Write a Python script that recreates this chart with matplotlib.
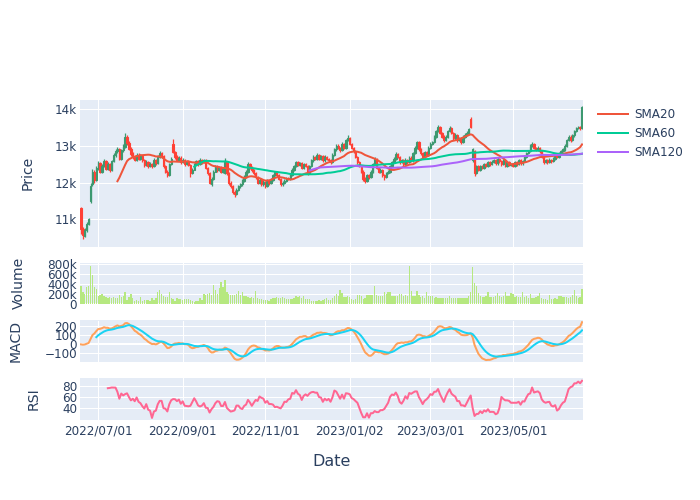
import numpy as np
import pandas as pd
import matplotlib
matplotlib.use("Agg")
import matplotlib.pyplot as plt
from matplotlib.lines import Line2D

# ---------------- data ----------------
dates = pd.bdate_range("2022-06-20", periods=262)

opens = [
    11300,10750,10560,10700,10880,11500,11950,12300,12080,12400,
    12520,12300,12450,12580,12380,12500,12350,12580,12750,12850,
    12900,12650,12880,12980,13250,13080,12920,12780,12700,12620,
    12760,12650,12720,12600,12480,12560,12450,12500,12450,12620,
    12520,12700,12800,12720,12450,12300,12200,12500,13050,12820,
    12700,12620,12680,12550,12620,12500,12580,12480,12250,12350,
    12500,12580,12500,12620,12550,12600,12400,12250,11950,12100,
    12300,12450,12350,12420,12300,12250,12550,12250,12000,11900,
    11750,11680,11800,11900,11950,12050,12150,12300,12500,12400,
    12350,12250,12150,12000,12080,11950,12020,11900,12050,11980,
    12080,12200,12280,12200,12100,11950,12000,12050,12120,12100,
    12200,12350,12450,12550,12480,12520,12400,12500,12450,12250,
    12450,12600,12700,12650,12750,12650,12720,12600,12700,12650,
    12600,12550,12750,12900,13000,12950,12880,13050,12950,13150,
    13200,13050,12950,12850,12700,12550,12450,12300,12100,12050,
    12200,12150,12300,12500,12650,12400,12300,12350,12200,12150,
    12250,12300,12450,12550,12650,12780,12700,12550,12600,12500,
    12620,12550,12680,12600,12800,12950,13100,12900,12800,12700,
    12820,12750,12950,13050,13100,13250,13400,13500,13350,13250,
    13150,13250,13400,13480,13350,13200,13300,13150,13200,13100,
    13250,13300,13350,13720,12620,12850,12250,12450,12350,12450,
    12400,12500,12450,12550,12500,12560,12600,12520,12650,12580,
    12500,12600,12450,12550,12480,12500,12450,12550,12500,12600,
    12520,12580,12700,12800,12850,13000,13050,12950,12900,12950,
    12850,12700,12550,12600,12550,12620,12580,12650,12750,12700,
    12800,12850,12900,13000,13150,13250,13150,13280,13400,13480,
    13500,13480]

highs = [
    11330,10800,10760,10920,11050,11980,12380,12340,12450,12580,
    12560,12500,12640,12620,12560,12530,12620,12800,12900,12960,
    12930,12920,13040,13350,13300,13120,12960,12830,12750,12800,
    12790,12770,12750,12640,12600,12590,12550,12540,12660,12650,
    12740,12860,12830,12750,12480,12340,12540,12700,13180,12850,
    12740,12720,12710,12660,12650,12620,12610,12510,12400,12540,
    12620,12610,12660,12650,12640,12630,12430,12280,12140,12340,
    12490,12480,12460,12450,12420,12680,12580,12280,12040,11930,
    11790,11840,11940,12000,12090,12200,12340,12560,12540,12440,
    12380,12290,12180,12120,12110,12060,12050,12090,12080,12120,
    12240,12320,12310,12230,12130,12040,12090,12160,12150,12240,
    12390,12490,12590,12580,12560,12550,12540,12530,12480,12490,
    12640,12740,12730,12790,12780,12760,12750,12740,12730,12680,
    12630,12790,12940,13040,13050,12980,13090,13080,13190,13280,
    13230,13080,12980,12880,12730,12580,12480,12330,12140,12240,
    12240,12340,12540,12700,12680,12430,12390,12380,12240,12290,
    12340,12490,12590,12690,12820,12810,12730,12640,12630,12660,
    12650,12720,12710,12840,12990,13140,13130,12930,12830,12860,
    12850,12990,13090,13140,13290,13440,13560,13530,13380,13280,
    13290,13440,13530,13510,13380,13340,13330,13240,13230,13290,
    13340,13390,13490,13780,12950,12880,12490,12480,12490,12480,
    12540,12530,12590,12580,12600,12640,12630,12690,12680,12610,
    12640,12630,12590,12580,12540,12530,12590,12580,12640,12630,
    12620,12740,12840,12890,13060,13090,13080,12980,12990,12980,
    12880,12730,12640,12630,12660,12650,12690,12790,12780,12840,
    12890,12940,13040,13190,13290,13280,13320,13440,13520,13540,
    13530,14080]

lows = [
    10600,10470,10520,10660,10850,11450,11900,11980,12050,12350,
    12260,12250,12420,12330,12340,12300,12320,12550,12700,12800,
    12600,12620,12840,12950,13020,12880,12720,12640,12580,12590,
    12600,12610,12550,12430,12440,12400,12410,12400,12420,12480,
    12500,12660,12680,12400,12250,12150,12180,12470,12790,12650,
    12580,12580,12510,12520,12460,12470,12440,12150,12220,12330,
    12470,12460,12480,12510,12520,12360,12200,11960,11900,12080,
    12280,12300,12320,12250,12270,12220,12200,11940,11840,11680,
    11620,11650,11770,11860,11920,12020,12120,12270,12360,12300,
    12200,12100,11950,11960,11900,11910,11860,11880,11940,11950,
    12050,12170,12160,12060,11900,11920,11970,12020,12060,12070,
    12170,12320,12420,12440,12450,12360,12370,12410,12210,12230,
    12420,12570,12610,12620,12610,12620,12560,12570,12610,12560,
    12510,12520,12720,12870,12900,12840,12850,12910,12920,13120,
    13010,12910,12810,12660,12510,12410,12260,12050,11990,12020,
    12110,12120,12270,12470,12360,12260,12270,12160,12080,12120,
    12220,12270,12420,12520,12620,12660,12510,12520,12460,12470,
    12510,12520,12560,12570,12770,12920,12860,12760,12660,12670,
    12710,12720,12920,13020,13070,13220,13370,13310,13210,13110,
    13120,13220,13370,13310,13160,13170,13110,13120,13060,13070,
    13220,13270,13320,13490,12560,12180,12220,12310,12320,12360,
    12370,12410,12420,12460,12470,12530,12480,12490,12540,12460,
    12470,12410,12420,12440,12450,12410,12420,12460,12470,12480,
    12490,12550,12670,12770,12820,12970,12910,12860,12870,12810,
    12660,12510,12520,12510,12520,12540,12550,12620,12660,12670,
    12770,12820,12870,12970,13120,13110,13120,13250,13370,13450,
    13430,13460]

closes = [
    10750,10580,10700,10880,11000,11900,12300,12080,12400,12520,
    12300,12450,12580,12380,12500,12350,12580,12750,12850,12900,
    12650,12880,12980,13250,13080,12920,12780,12700,12620,12760,
    12650,12720,12600,12480,12560,12450,12500,12450,12620,12520,
    12700,12800,12720,12450,12300,12200,12500,12650,12820,12700,
    12620,12680,12550,12620,12500,12580,12480,12250,12350,12500,
    12580,12500,12620,12550,12600,12400,12250,12000,12100,12300,
    12450,12350,12420,12300,12380,12550,12250,12000,11900,11750,
    11680,11800,11900,11950,12050,12150,12300,12500,12400,12350,
    12250,12150,12000,12080,11950,12020,11900,12050,11980,12080,
    12200,12280,12200,12100,11950,12000,12050,12120,12100,12200,
    12350,12450,12550,12480,12520,12400,12500,12450,12250,12450,
    12600,12700,12650,12750,12650,12720,12600,12700,12650,12600,
    12550,12750,12900,13000,12950,12880,13050,12950,13150,13200,
    13050,12950,12850,12700,12550,12450,12300,12100,12050,12200,
    12150,12300,12500,12650,12400,12300,12350,12200,12150,12250,
    12300,12450,12550,12650,12780,12700,12550,12600,12500,12620,
    12550,12680,12600,12800,12950,13100,12900,12800,12700,12820,
    12750,12950,13050,13100,13250,13400,13500,13350,13250,13150,
    13250,13400,13480,13350,13200,13300,13150,13200,13100,13250,
    13300,13350,13450,13520,12900,12250,12450,12350,12450,12400,
    12500,12450,12550,12500,12560,12600,12520,12650,12580,12500,
    12600,12450,12550,12480,12500,12450,12550,12500,12600,12520,
    12580,12700,12800,12850,13000,13050,12950,12900,12950,12850,
    12700,12550,12600,12550,12620,12580,12650,12750,12700,12800,
    12850,12900,13000,13150,13250,13150,13280,13400,13480,13500,
    13470,14050]

volumes_k = [
    360,240,190,330,350,750,580,330,300,160,
    175,190,160,140,110,130,110,140,110,120,
    175,140,160,225,80,145,190,110,65,70,
    65,140,65,75,70,75,65,125,75,110,
    225,275,190,160,145,140,225,110,90,65,
    125,100,90,75,90,100,95,75,65,40,
    50,60,110,80,190,175,190,210,175,375,
    270,190,310,440,325,475,240,190,175,175,
    175,190,250,175,240,160,160,140,125,130,
    110,250,110,95,90,75,80,75,65,90,
    110,125,130,120,125,135,120,100,105,95,
    100,110,150,140,150,125,160,95,90,90,
    50,60,60,50,70,60,80,90,125,80,
    80,125,160,195,160,280,205,140,130,150,
    140,95,80,90,175,175,150,90,125,180,
    180,180,180,350,175,150,150,150,225,190,
    240,240,150,150,150,150,190,190,150,175,
    160,750,255,155,155,255,175,130,160,110,
    225,150,150,150,120,130,115,125,110,120,
    110,125,160,125,115,120,110,125,120,115,
    110,120,150,240,725,410,350,205,150,140,
    130,160,225,130,130,130,160,210,160,140,
    150,240,160,160,220,200,140,150,130,130,
    240,130,150,110,200,110,110,130,160,210,
    110,100,90,80,175,90,100,110,100,160,
    160,130,130,130,120,130,175,275,150,110,
    130,300]

tick_dates = ["2022-07-01", "2022-09-01", "2022-11-01",
              "2023-01-02", "2023-03-01", "2023-05-01"]
tick_labels = ["2022/07/01", "2022/09/01", "2022/11/01",
               "2023/01/02", "2023/03/01", "2023/05/01"]
sma_names = ["SMA20", "SMA60", "SMA120"]
sma_windows = [20, 60, 120]

# ---------------- indicators ----------------
df = pd.DataFrame({"open": opens, "high": highs, "low": lows,
                   "close": closes, "volume": np.array(volumes_k) * 1000},
                  index=dates)
close = df["close"]
smas = [close.rolling(w).mean() for w in sma_windows]
ema12 = close.ewm(span=12).mean()
ema26 = close.ewm(span=26).mean()
macd = ema12 - ema26
signal = macd.ewm(span=9).mean()
signal.iloc[:8] = np.nan
delta = close.diff()
gain = delta.clip(lower=0).rolling(14).mean()
loss = (-delta.clip(upper=0)).rolling(14).mean()
rsi = 100 - 100 / (1 + gain / loss)

# ---------------- figure ----------------
W, H = 700, 500
fig = plt.figure(figsize=(7, 5), dpi=100)
fig.patch.set_facecolor("white")

TXT = "#2a3f5f"
BG = "#E5ECF6"
FS = 8.64        # 12 px
FT = 10.08       # 14 px

LEFT, RIGHT = 80, 583

def add_ax(top, bottom):
    ax = fig.add_axes([LEFT / W, 1 - bottom / H, (RIGHT - LEFT) / W, (bottom - top) / H])
    ax.set_facecolor(BG)
    for s in ax.spines.values():
        s.set_visible(False)
    ax.grid(True, color="white", lw=0.75, zorder=0)
    ax.set_axisbelow(True)
    ax.tick_params(length=0, labelsize=FS, labelcolor=TXT, pad=2)
    return ax

n = len(df)
x = np.arange(n)
tick_pos = [dates.get_loc(pd.Timestamp(d)) for d in tick_dates]

ax_p = add_ax(100, 246.5)
ax_v = add_ax(262.8, 303.8)
ax_m = add_ax(320.5, 361.7)
ax_r = add_ax(377.5, 420)

for ax in (ax_p, ax_v, ax_m, ax_r):
    ax.set_xlim(-0.5, n - 0.5)
    ax.set_xticks(tick_pos)
    ax.set_xticklabels([])
ax_r.set_xticklabels(tick_labels)
ax_r.tick_params(axis="x", pad=3)

# price candles
o = df["open"].values; c = df["close"].values
hi = df["high"].values; lo = df["low"].values
cols = np.where(c >= o, "#3D9970", "#FF4136")
ax_p.vlines(x, lo, hi, colors=cols, lw=0.9, zorder=2)
body = np.maximum(np.abs(c - o), 15)
ax_p.bar(x, body, bottom=np.minimum(o, c), width=0.72, color=cols,
         edgecolor=cols, lw=0.8, zorder=3)
sma_cols = ["#EF553B", "#00CC96", "#AB63FA"]
for s, col in zip(smas, sma_cols):
    ax_p.plot(x, s.values, color=col, lw=1.44, zorder=4)
ax_p.set_ylim(10264, 14243)
ax_p.set_yticks([11000, 12000, 13000, 14000])
ax_p.set_yticklabels(["11k", "12k", "13k", "14k"])

# volume
ax_v.bar(x, df["volume"].values, width=0.7, color="#B6E880", zorder=2)
ax_v.set_ylim(0, 815000)
ax_v.set_yticks([0, 200000, 400000, 600000, 800000])
ax_v.set_yticklabels(["0", "200k", "400k", "600k", "800k"])
ax_v.axhline(0, color="white", lw=1.44, zorder=1)

# MACD
ax_m.axhline(0, color="white", lw=1.44, zorder=1)
ax_m.plot(x, macd.values, color="#FFA15A", lw=1.44, zorder=3)
ax_m.plot(x, signal.values, color="#19D3F3", lw=1.44, zorder=4)
ax_m.set_ylim(-194, 267)
ax_m.set_yticks([-100, 0, 100, 200])
ax_m.set_yticklabels(["\u2212100", "0", "100", "200"])

# RSI
ax_r.plot(x, rsi.values, color="#FF6692", lw=1.44, zorder=3)
ax_r.set_ylim(19.3, 95)
ax_r.set_yticks([40, 60, 80])

# axis titles
def ftext(px, py, s, **kw):
    fig.text(px / W, 1 - py / H, s, color=TXT, ha="center", va="center", **kw)

ftext(27.5, 173, "Price", fontsize=FT, rotation=90)
ftext(19, 283, "Volume", fontsize=FT, rotation=90)
ftext(16, 341, "MACD", fontsize=FT, rotation=90)
ftext(34, 398.7, "RSI", fontsize=FT, rotation=90)
ftext(331.5, 462, "Date", fontsize=11.5)

# legend
for k, (name, col) in enumerate(zip(sma_names, sma_cols)):
    yy = 114.3 + 19 * k
    fig.add_artist(Line2D([598 / W, 628 / W], [1 - yy / H, 1 - yy / H],
                          color=col, lw=1.44, transform=fig.transFigure))
    fig.text(634 / W, 1 - yy / H, name, color=TXT, fontsize=FS,
             ha="left", va="center")

fig.savefig("out.png", dpi=100)
